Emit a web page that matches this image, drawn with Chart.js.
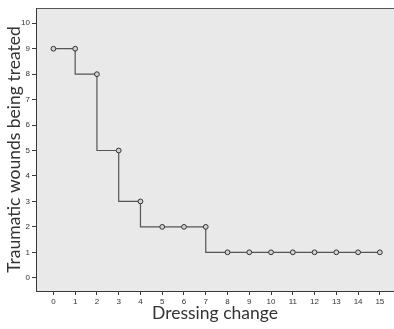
<!DOCTYPE html>
<html>
<head>
<meta charset="utf-8">
<script src="https://cdn.jsdelivr.net/npm/chart.js@4"></script>
<style>
  html, body { margin: 0; padding: 0; background: #fff; }
  /* canvas is a bit wider than the page so the grey panel runs to the right edge */
  #wrap { width: 394px; height: 329px; overflow: hidden; }
</style>
</head>
<body>
<div id="wrap"><canvas id="chart" width="399" height="329"></canvas></div>
<script>
// Dressing change vs. wounds still being treated
const dressingChange = [0, 1, 2, 3, 4, 5, 6, 7, 8, 9, 10, 11, 12, 13, 14, 15];
const woundsTreated  = [9, 9, 8, 5, 3, 2, 2, 2, 1, 1, 1, 1, 1, 1, 1, 1];
const xTicks = [0, 1, 2, 3, 4, 5, 6, 7, 8, 9, 10, 11, 12, 13, 14, 15];
const yTicks = [0, 1, 2, 3, 4, 5, 6, 7, 8, 9, 10];

const PLOT_BG = '#e9e9e9';
const AXIS = '#3a3a3a';
const TEXT = '#333333';

// grey panel behind the plot + top border line
const panel = {
  id: 'panel',
  beforeDraw(chart) {
    const { ctx, chartArea: a } = chart;
    ctx.save();
    ctx.fillStyle = PLOT_BG;
    ctx.fillRect(a.left, a.top, a.right - a.left, a.bottom - a.top);
    ctx.strokeStyle = '#555';
    ctx.lineWidth = 1;
    ctx.beginPath();
    ctx.moveTo(a.left, a.top + 0.5);
    ctx.lineTo(a.right, a.top + 0.5);
    ctx.stroke();
    ctx.restore();
  }
};

new Chart(document.getElementById('chart'), {
  type: 'line',
  data: {
    datasets: [{
      data: dressingChange.map((x, i) => ({ x, y: woundsTreated[i] })),
      stepped: 'after',
      borderColor: '#555',
      borderWidth: 1.2,
      fill: false,
      pointRadius: 2.4,
      pointBorderWidth: 1,
      pointBorderColor: '#333',
      pointBackgroundColor: '#d2d2d2',
    }]
  },
  options: {
    responsive: false,
    animation: false,
    devicePixelRatio: 1,
    layout: { padding: { top: 8, right: 0, bottom: 0, left: 0 } },
    plugins: { legend: { display: false }, tooltip: { enabled: false } },
    scales: {
      x: {
        type: 'linear',
        min: -0.8,
        max: 15.65,
        afterBuildTicks: s => { s.ticks = xTicks.map(v => ({ value: v })); },
        afterFit: s => { s.height = 38; },
        grid: { drawOnChartArea: false, tickLength: 4, color: AXIS },
        border: { color: AXIS, width: 1 },
        ticks: { color: TEXT, font: { family: 'Liberation Sans', size: 8 }, padding: 2, maxRotation: 0 },
        title: {
          display: true,
          text: 'Dressing change',
          color: '#333',
          font: { family: 'Lato', size: 17.5 },
          padding: { top: 0, bottom: 5 }
        }
      },
      y: {
        min: -0.52,
        max: 10.6,
        afterBuildTicks: s => { s.ticks = yTicks.map(v => ({ value: v })); },
        afterFit: s => { s.width = 36; s.paddingTop = 0; s.paddingBottom = 0; },
        grid: { drawOnChartArea: false, tickLength: 4, color: AXIS },
        border: { color: AXIS, width: 1 },
        ticks: { color: TEXT, font: { family: 'Liberation Sans', size: 8 }, padding: 2 },
        title: {
          display: true,
          text: 'Traumatic wounds being treated',
          color: '#333',
          font: { family: 'Lato', size: 17.5 },
          padding: { top: 4, bottom: 0 }
        }
      }
    }
  },
  plugins: [panel]
});
</script>
</body>
</html>
